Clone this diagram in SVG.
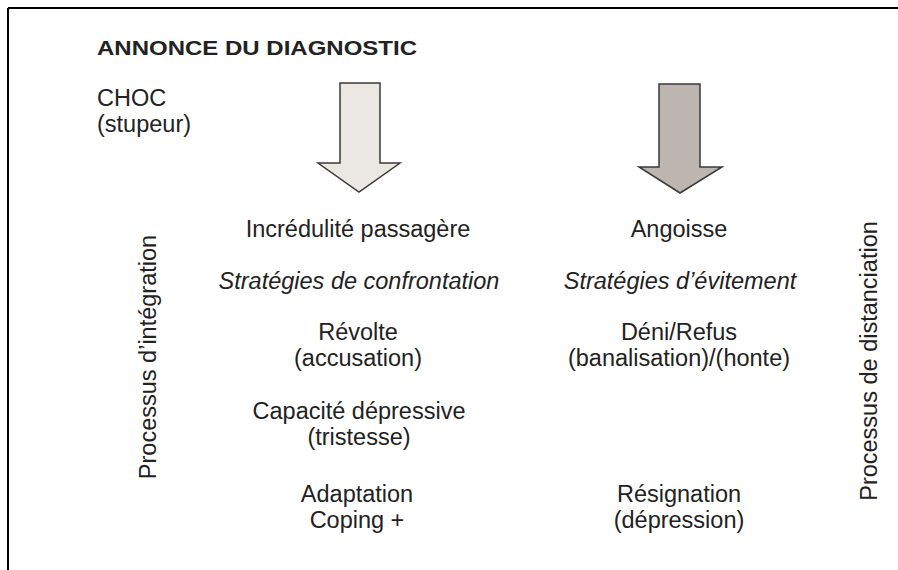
<svg xmlns="http://www.w3.org/2000/svg" width="898" height="570" viewBox="0 0 898 570">
<style>
  text { font-family: "Liberation Sans", Arial, sans-serif; fill: #222; }
  .t { font-size: 23.5px; }
  .c { font-size: 23.5px; text-anchor: middle; }
  .i { font-style: italic; }
  .title { font-size: 21px; font-weight: bold; }
  .arrow { stroke: #3a3a3a; stroke-width: 1.5; stroke-linejoin: miter; }
</style>
<rect width="898" height="570" fill="#ffffff"/>
<g id="frame" stroke="#000" stroke-width="2" fill="none">
  <line x1="8" y1="8" x2="898" y2="8"/>
  <line x1="8" y1="8" x2="8" y2="570"/>
</g>
<g id="title"><text class="title" x="97" y="55" textLength="320" lengthAdjust="spacingAndGlyphs">ANNONCE DU DIAGNOSTIC</text></g>
<g id="choc">
  <text class="t" x="97" y="106">CHOC</text>
  <text class="t" x="97" y="132">(stupeur)</text>
</g>
<g id="connectors">
  <path id="arrow-left" class="arrow" fill="#ebe7e3" d="M340,83 L380,83 L380,163 L400,163 L359,192 L318,163 L340,163 Z"/>
  <path id="arrow-right" class="arrow" fill="#bdb5af" d="M659,84 L700,84 L700,167 L722,167 L680,193 L639,167 L659,167 Z"/>
</g>
<g id="incredulite"><text class="c" x="358" y="237">Incrédulité passagère</text></g>
<g id="strat-confrontation"><text class="c i" x="359" y="289">Stratégies de confrontation</text></g>
<g id="revolte">
  <text class="c" x="358" y="340">Révolte</text>
  <text class="c" x="358" y="366">(accusation)</text>
</g>
<g id="capacite">
  <text class="c" x="359" y="419">Capacité dépressive</text>
  <text class="c" x="359" y="445">(tristesse)</text>
</g>
<g id="adaptation">
  <text class="c" x="357" y="502">Adaptation</text>
  <text class="c" x="357" y="528">Coping +</text>
</g>
<g id="angoisse"><text class="c" x="679" y="237">Angoisse</text></g>
<g id="strat-evitement"><text class="c i" x="680" y="289">Stratégies d’évitement</text></g>
<g id="deni">
  <text class="c" x="679" y="340">Déni/Refus</text>
  <text class="c" x="679" y="366">(banalisation)/(honte)</text>
</g>
<g id="resignation">
  <text class="c" x="679" y="502">Résignation</text>
  <text class="c" x="679" y="528">(dépression)</text>
</g>
<g id="processus-integration"><text class="c" transform="translate(156,357) rotate(-90)">Processus d’intégration</text></g>
<g id="processus-distanciation"><text class="c" transform="translate(877,361) rotate(-90)">Processus de distanciation</text></g>
</svg>
